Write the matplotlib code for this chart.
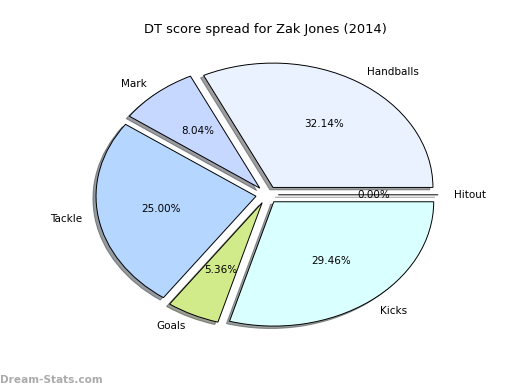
import matplotlib.pyplot as plt

labels = ['Hitout', 'Handballs', 'Mark', 'Tackle', 'Goals', 'Kicks']
sizes = [0.00, 32.14, 8.04, 25.00, 5.36, 29.46]
colors = ['#e6ecff', '#eaf1ff', '#c6d8ff', '#b5d6ff', '#d1eb8b', '#d9ffff']
explode = [0.07] * len(sizes)

fig = plt.figure(figsize=(5.2, 3.9), dpi=100)
ax = fig.add_axes([0.129, 0.102, 0.769, 0.797])
ax.pie(sizes, explode=explode, labels=labels, colors=colors, autopct='%.2f%%',
       shadow={'ox': -0.014, 'oy': -0.014, 'shade': 0.75}, startangle=0,
       wedgeprops={'edgecolor': 'black', 'linewidth': 0.7},
       textprops={'fontsize': 7.5})
ax.set_aspect('auto')
ax.set_xlim(-1.25, 1.25)
ax.set_ylim(-1.25, 1.25)
ax.axis('off')

fig.text(0.511, 0.925, 'DT score spread for Zak Jones (2014)', ha='center', va='center', fontsize=9.4)
fig.text(0.0, 0.025, 'Dream-Stats.com', ha='left', va='center', fontsize=7.6,
         color='#ababab', fontweight='bold')

plt.savefig('out.png')
